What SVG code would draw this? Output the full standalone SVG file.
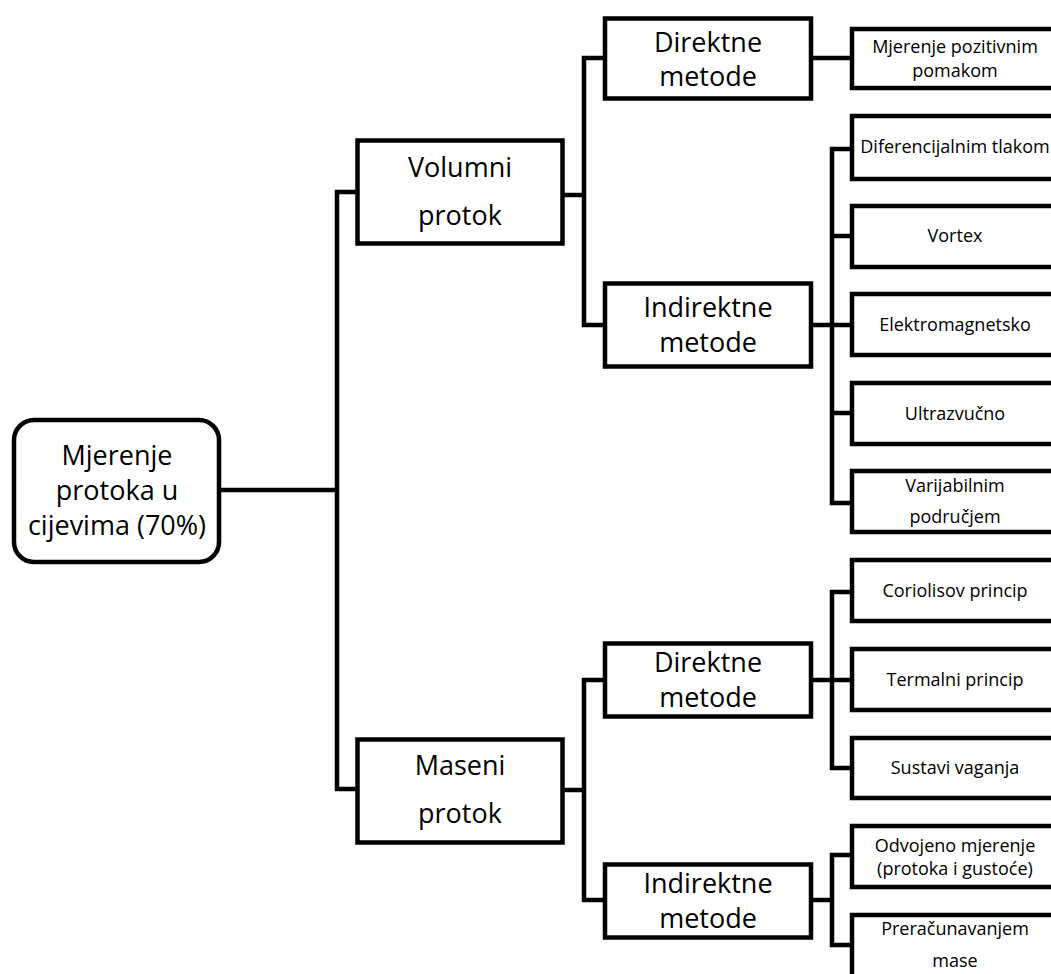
<svg xmlns="http://www.w3.org/2000/svg" width="1051" height="974" viewBox="0 0 1051 974">
<style>
.box{fill:#fff;stroke:#000;stroke-width:4.5}
.con{fill:none;stroke:#000;stroke-width:4.5;stroke-linejoin:miter}
.big{font-family:"Open Sans","Liberation Sans",sans-serif;font-size:27px;text-anchor:middle;fill:#000}
.sm{font-family:"Open Sans","Liberation Sans",sans-serif;font-size:18px;text-anchor:middle;fill:#000}
</style>
<rect width="1051" height="974" fill="#fff"/>
<g id="connectors">
<path class="con" d="M221 490 H337"/>
<path class="con" d="M357 192 H337 V789 H357"/>
<path class="con" d="M563 195 H584"/>
<path class="con" d="M605 58 H584 V325 H605"/>
<path class="con" d="M811 58 H852"/>
<path class="con" d="M811 325 H852"/>
<path class="con" d="M852 149 H832 V503 H852"/>
<path class="con" d="M832 236 H852 M832 413 H852"/>
<path class="con" d="M563 790 H584"/>
<path class="con" d="M605 680 H584 V900 H605"/>
<path class="con" d="M811 680 H852"/>
<path class="con" d="M852 592 H832 V768 H852"/>
<path class="con" d="M811 900 H832"/>
<path class="con" d="M852 855 H832 V945 H852"/>
</g>
<g id="root">
<rect class="box" x="14" y="420" width="205" height="142" rx="20"/>
<text class="big" x="117" y="465">Mjerenje</text>
<text class="big" x="117" y="500">protoka u</text>
<text class="big" x="117" y="535">cijevima (70%)</text>
</g>
<g id="volumni">
<rect class="box" x="357.5" y="140.5" width="205" height="103"/>
<text class="big" x="460" y="177">Volumni</text>
<text class="big" x="460" y="225">protok</text>
</g>
<g id="maseni">
<rect class="box" x="357.5" y="739.5" width="205" height="103"/>
<text class="big" x="460" y="775">Maseni</text>
<text class="big" x="460" y="823">protok</text>
</g>
<g id="vol-direktne">
<rect class="box" x="605" y="18.5" width="206" height="80"/>
<text class="big" x="708" y="52">Direktne</text>
<text class="big" x="708" y="86">metode</text>
</g>
<g id="vol-indirektne">
<rect class="box" x="605" y="283.5" width="206" height="83"/>
<text class="big" x="708" y="317">Indirektne</text>
<text class="big" x="708" y="352">metode</text>
</g>
<g id="mas-direktne">
<rect class="box" x="605" y="643.5" width="206" height="73"/>
<text class="big" x="708" y="672">Direktne</text>
<text class="big" x="708" y="707">metode</text>
</g>
<g id="mas-indirektne">
<rect class="box" x="605" y="864.5" width="206" height="73"/>
<text class="big" x="708" y="893">Indirektne</text>
<text class="big" x="708" y="928">metode</text>
</g>
<g id="pozitivnim">
<rect class="box" x="852" y="29" width="210" height="59"/>
<text class="sm" x="955" y="53">Mjerenje pozitivnim</text>
<text class="sm" x="955" y="77">pomakom</text>
</g>
<g id="diferencijalnim">
<rect class="box" x="852" y="116" width="210" height="63"/>
<text class="sm" x="955" y="153">Diferencijalnim tlakom</text>
</g>
<g id="vortex">
<rect class="box" x="852" y="206" width="210" height="61"/>
<text class="sm" x="955" y="242">Vortex</text>
</g>
<g id="elektromagnetsko">
<rect class="box" x="852" y="294" width="210" height="61"/>
<text class="sm" x="955" y="331">Elektromagnetsko</text>
</g>
<g id="ultrazvucno">
<rect class="box" x="852" y="383" width="210" height="61"/>
<text class="sm" x="955" y="420">Ultrazvučno</text>
</g>
<g id="varijabilnim">
<rect class="box" x="852" y="471" width="210" height="61"/>
<text class="sm" x="955" y="492">Varijabilnim</text>
<text class="sm" x="955" y="523">područjem</text>
</g>
<g id="coriolisov">
<rect class="box" x="852" y="560" width="210" height="61"/>
<text class="sm" x="955" y="597">Coriolisov princip</text>
</g>
<g id="termalni">
<rect class="box" x="852" y="649" width="210" height="61"/>
<text class="sm" x="955" y="686">Termalni princip</text>
</g>
<g id="sustavi">
<rect class="box" x="852" y="738" width="210" height="60"/>
<text class="sm" x="955" y="774">Sustavi vaganja</text>
</g>
<g id="odvojeno">
<rect class="box" x="852" y="826" width="210" height="61"/>
<text class="sm" x="955" y="852">Odvojeno mjerenje</text>
<text class="sm" x="955" y="875">(protoka i gustoće)</text>
</g>
<g id="preracunavanjem">
<rect class="box" x="852" y="915" width="210" height="100"/>
<text class="sm" x="955" y="935">Preračunavanjem</text>
<text class="sm" x="955" y="967">mase</text>
</g>
</svg>
